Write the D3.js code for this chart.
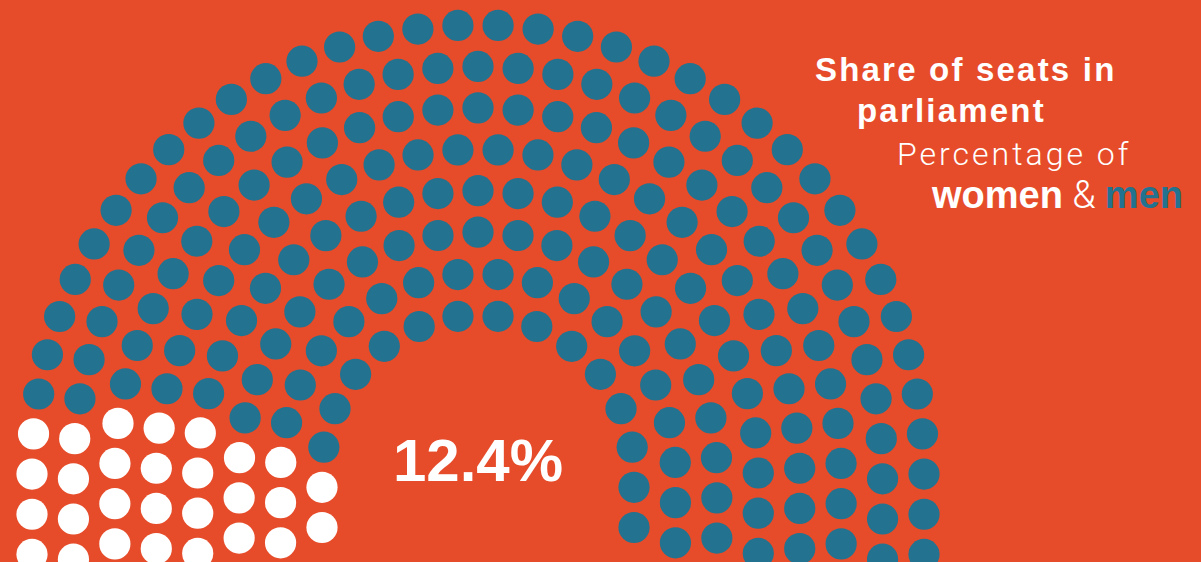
<!DOCTYPE html>
<html>
<head>
<meta charset="utf-8">
<script src="https://cdn.jsdelivr.net/npm/d3@7"></script>
<style>
  html, body { margin: 0; padding: 0; background: #e64c2a; }
  svg { display: block; }
  .title { font-family: "Liberation Sans", Arial, sans-serif; font-weight: bold; fill: #fff; }
  .light { font-family: Roboto, "Liberation Sans", sans-serif; font-weight: 300; fill: #fff; }
</style>
</head>
<body>
<svg id="chart"></svg>
<script>
let width = 1201;
let height = 562;

// data
const groups = ['women', 'men'];
const seats = [28, 198];
const shareWomen = 12.4;
const rowCount = 8;

const titleLines = ['Share of seats in', 'parliament'];
const subtitle = 'Percentage of';

let svg = d3.select('#chart')
            .attr('width', width)
            .attr('height', height);

svg.append('rect')
   .attr('width', width)
   .attr('height', height)
   .attr('fill', '#e64c2a');

// Colors
let color = d3.scaleOrdinal()
              .domain(groups)
              .range(['#ffffff', '#23728f']);

// horseshoe layout: half circle rows on top, straight legs below
let cx = 478, cy = 471, legLen = 75, dotR = 15.6;
let rScale = d3.scaleLinear().domain([0, rowCount - 1]).range([156, 446]);

let total = d3.sum(seats);
let rows = d3.range(rowCount).map(i => {
  let r = rScale(i);
  return {i: i, r: r, len: 2 * legLen + Math.PI * r};
});
let totalLen = d3.sum(rows, d => d.len);
let step = totalLen / (total - rowCount);

// share the seats out between rows (largest remainder)
rows.forEach(d => {
  d.raw = total * d.len / totalLen;
  d.n = Math.floor(d.raw);
});
let left = total - d3.sum(rows, d => d.n);
rows.slice().sort((a, b) => (b.raw - b.n) - (a.raw - a.n))
    .slice(0, left)
    .forEach(d => d.n += 1);

function pointOn(row, s) {
  let r = row.r;
  if (s < legLen) return [cx - r, cy + legLen - s];
  if (s <= legLen + Math.PI * r) {
    let phi = Math.PI - (s - legLen) / r;
    return [cx + r * Math.cos(phi), cy - r * Math.sin(phi)];
  }
  return [cx + r, cy + (s - legLen - Math.PI * r)];
}

let dots = [];
rows.forEach(row => {
  // same step on every row, centred on the top of the arc
  let half = (row.n - 1) / 2 * step;
  let pos = d3.scaleLinear().domain([0, row.n - 1]).range([row.len / 2 - half, row.len / 2 + half]);
  d3.range(row.n).forEach(k => {
    let p = pointOn(row, pos(k));
    // angle counted from the left, going over the top
    let a = Math.atan2(cy - p[1], cx - p[0]);
    if (p[0] > cx && p[1] > cy) a += 2 * Math.PI;
    dots.push({x: p[0], y: p[1], angle: a});
  });
});

// seats fill from the left
dots.sort((a, b) => a.angle - b.angle);
dots.forEach((d, i) => d.group = i < seats[0] ? groups[0] : groups[1]);

svg.append('g')
   .selectAll('circle')
   .data(dots)
   .enter()
   .append('circle')
   .attr('cx', d => d.x)
   .attr('cy', d => d.y)
   .attr('r', dotR)
   .attr('fill', d => color(d.group));

// big number in the middle
svg.append('text')
   .attr('class', 'title')
   .attr('x', cx)
   .attr('y', 481)
   .attr('text-anchor', 'middle')
   .style('font-size', '60px')
   .text(d3.format('.1f')(shareWomen) + '%');

// title block
svg.selectAll('text.head')
   .data(titleLines)
   .enter()
   .append('text')
   .attr('class', 'title head')
   .attr('x', (d, i) => [815, 857][i])
   .attr('y', (d, i) => [81, 122][i])
   .style('font-size', '33px')
   .style('letter-spacing', '2.2px')
   .text(d => d);

svg.append('text')
   .attr('class', 'light')
   .attr('x', 897)
   .attr('y', 165)
   .style('font-size', '32px')
   .style('letter-spacing', '3px')
   .text(subtitle);

let legend = svg.append('text')
                .attr('x', 1183)
                .attr('y', 208)
                .attr('text-anchor', 'end')
                .style('font-size', '38px');

legend.append('tspan').attr('class', 'title').text(groups[0]);
legend.append('tspan').attr('class', 'light').text(' & ');
legend.append('tspan').attr('class', 'title').style('fill', color(groups[1])).text(groups[1]);
</script>
</body>
</html>
